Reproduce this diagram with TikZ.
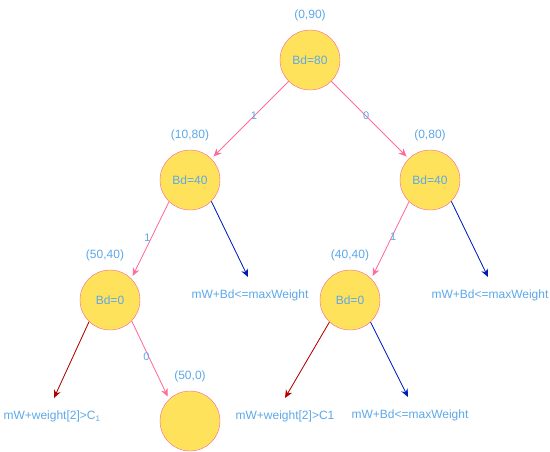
\documentclass[tikz,border=0pt]{standalone}
\usepackage{fontspec}
\setmainfont{Liberation Sans}
\usetikzlibrary{positioning, arrows.meta}
\definecolor{textblue}{RGB}{92,168,232}
\definecolor{nodefill}{RGB}{255,226,92}
\definecolor{nodeline}{RGB}{245,100,150}
\definecolor{edgepink}{RGB}{255,110,155}
\definecolor{edgeblue}{RGB}{0,29,188}
\definecolor{edgered}{RGB}{178,0,0}
\newcommand{\treearrow}{-{Stealth[length=8pt,width=7pt]}}

\begin{document}
\begin{tikzpicture}[x=1pt, y=-1pt,
    every node/.style={text=textblue, font=\fontsize{12}{14}\selectfont},
    state/.style={shape=circle, draw=nodeline, fill=nodefill, minimum size=60pt, inner sep=0pt},
    pair/.style={inner sep=0pt},
    leaf/.style={inner sep=0pt},
    bit/.style={font=\fontsize{11}{13}\selectfont, inner sep=0pt},
    take/.style={draw=edgepink, fill=edgepink, line width=0.8pt, shorten >=3pt},
    fits/.style={draw=edgeblue, fill=edgeblue, line width=0.8pt},
    over/.style={draw=edgered, fill=edgered, line width=0.8pt}]
    \useasboundingbox (0,0) rectangle (550,451);
    % states
    \node[state] (root) at (310,60) {Bd=80};
    \node[state] (l) at (190,180) {Bd=40};
    \node[state] (r) at (430,180) {Bd=40};
    \node[state] (ll) at (110,300) {Bd=0};
    \node[state] (rl) at (350,300) {Bd=0};
    \node[state] (llr) at (190,421) {};
    % (cw,cp) pairs
    \node[pair, above=9pt of root] (rootpair) {(0,90)};
    \node[pair, above=9pt of l] (lpair) {(10,80)};
    \node[pair, above=9pt of r] (rpair) {(0,80)};
    \node[pair, above=9pt of ll, xshift=-5pt] (llpair) {(50,40)};
    \node[pair, above=9pt of rl] (rlpair) {(40,40)};
    \node[pair, above=9pt of llr] (llrpair) {(50,0)};
    % cut ends
    \coordinate (lend) at (248,277);
    \coordinate (rend) at (488,277);
    \coordinate (llend) at (54,398);
    \coordinate (rlend) at (285,398);
    \coordinate (rlfit) at (408,397);
    \node[leaf, below=13pt of lend, xshift=2pt] (lleaf) {mW+Bd<=maxWeight};
    \node[leaf, below=13pt of rend, xshift=2pt] (rleaf) {mW+Bd<=maxWeight};
    \node[leaf, below=13pt of llend, xshift=-2pt] (llleaf) {mW+weight[2]>C\textsubscript{1}};
    \node[leaf, below=13pt of rlend] (rlleaf) {mW+weight[2]>C1};
    \node[leaf, below=13pt of rlfit, xshift=2pt] (rlfitleaf) {mW+Bd<=maxWeight};
    % branches
    \draw[take, \treearrow] (root) -- (l) node[bit, pos=0.45] (b1) {1};
    \draw[take, \treearrow] (root) -- (r) node[bit, pos=0.45] (b2) {0};
    \draw[take, \treearrow] (l.226) -- (ll.45) node[bit, pos=0.47, xshift=-4pt] (b3) {1};
    \draw[take, \treearrow] (r.226) -- (rl.45) node[bit, pos=0.45, xshift=1pt] (b4) {1};
    \draw[take, \treearrow] (ll.-44) -- (llr.134) node[bit, pos=0.45, xshift=-2pt] (b5) {0};
    \draw[fits, \treearrow] (l.-45) -- (lend);
    \draw[fits, \treearrow] (r.-45) -- (rend);
    \draw[fits, \treearrow] (rl.-47) -- (rlfit);
    \draw[over, \treearrow] (ll.-134) -- (llend);
    \draw[over, \treearrow] (rl.-133) -- (rlend);
\end{tikzpicture}
\end{document}
